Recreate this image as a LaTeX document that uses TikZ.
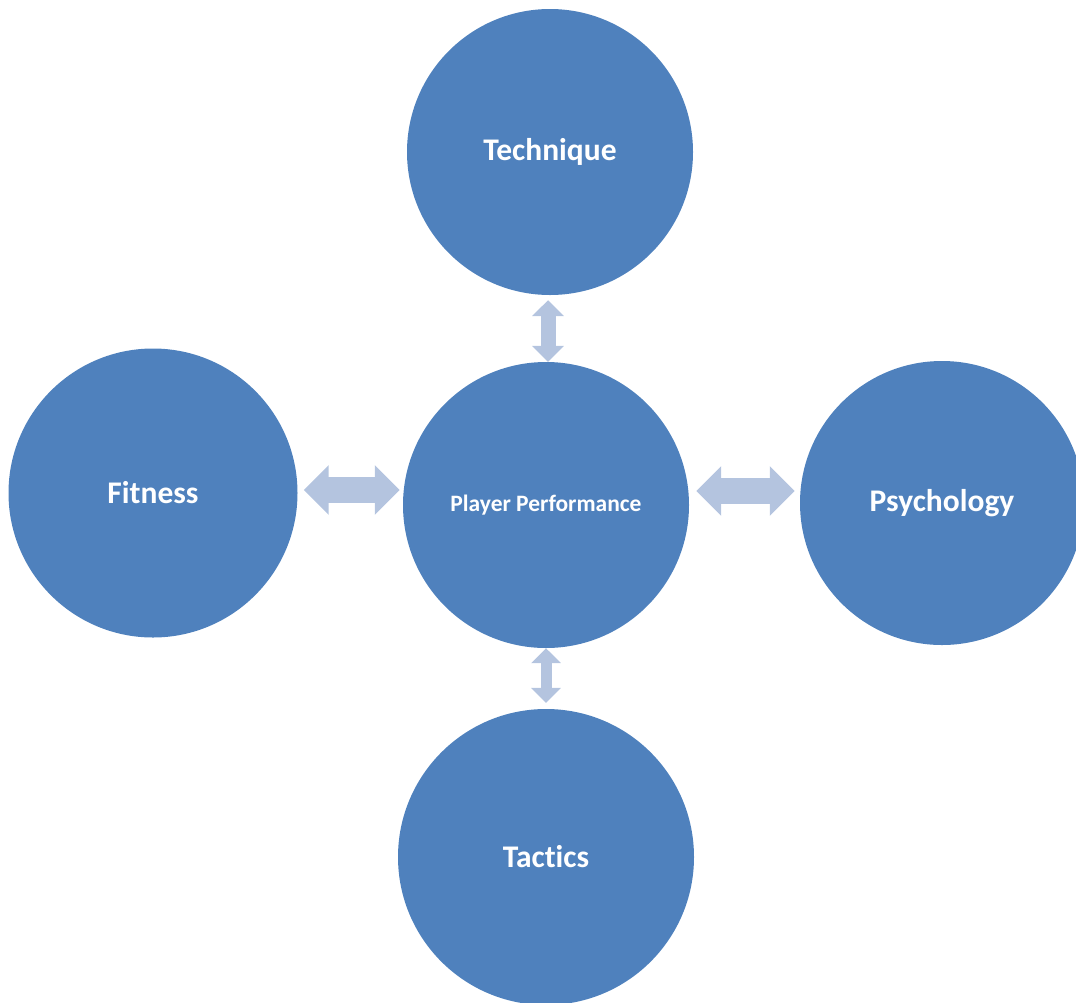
\documentclass[tikz,border=0pt]{standalone}
\usepackage{fontspec}
\setmainfont{Carlito}[Ligatures=NoCommon]
\usetikzlibrary{arrows.meta}

\definecolor{circleblue}{HTML}{4F81BD}
\definecolor{arrowblue}{HTML}{B4C4DF}

\tikzset{
	factor/.style={circle, fill=circleblue, draw=none, inner sep=0pt, text=white, font=\bfseries\fontsize{31.5}{36}\selectfont},
	link/.style={draw=arrowblue, line width=#1},
}

\begin{document}
\begin{tikzpicture}[x=1pt, y=-1pt]
		
		\clip (0,0) rectangle (1076,1002);
		\useasboundingbox (0,0) rectangle (1076,1002);
		
		\node[factor, minimum size=286pt]                                       (technique)   at (550,152) {Technique};
		\node[factor, minimum size=286pt, font=\bfseries\fontsize{23.5}{28}\selectfont] (performance) at (546,505) {Player Performance};
		\node[factor, minimum size=289pt]                                       (fitness)     at (153,493) {Fitness};
		\node[factor, minimum size=284pt]                                       (psychology)  at (942,503) {Psychology};
		\node[factor, minimum size=296pt]                                       (tactics)     at (546,857) {Tactics};
		
		
		\draw[link=15pt, {Triangle[length=16pt,width=31pt]}-{Triangle[length=16pt,width=31pt]}, shorten <=5pt]
			([xshift=-2pt]technique.south) -- ([xshift=2pt]performance.north);
		\draw[link=11pt, {Triangle[length=15pt,width=29pt]}-{Triangle[length=15pt,width=29pt]}, shorten >=6pt]
			(performance.south) -- (tactics.north);
		\draw[link=26pt, {Triangle[length=25pt,width=48pt]}-{Triangle[length=25pt,width=48pt]}, shorten <=6pt, shorten >=3pt]
			([yshift=3pt]fitness.east) -- ([yshift=15pt]performance.west);
		\draw[link=26pt, {Triangle[length=25pt,width=48pt]}-{Triangle[length=25pt,width=48pt]}, shorten <=7pt, shorten >=5pt]
			([yshift=14pt]performance.east) -- ([yshift=12pt]psychology.west);
		
	\end{tikzpicture}
\end{document}
